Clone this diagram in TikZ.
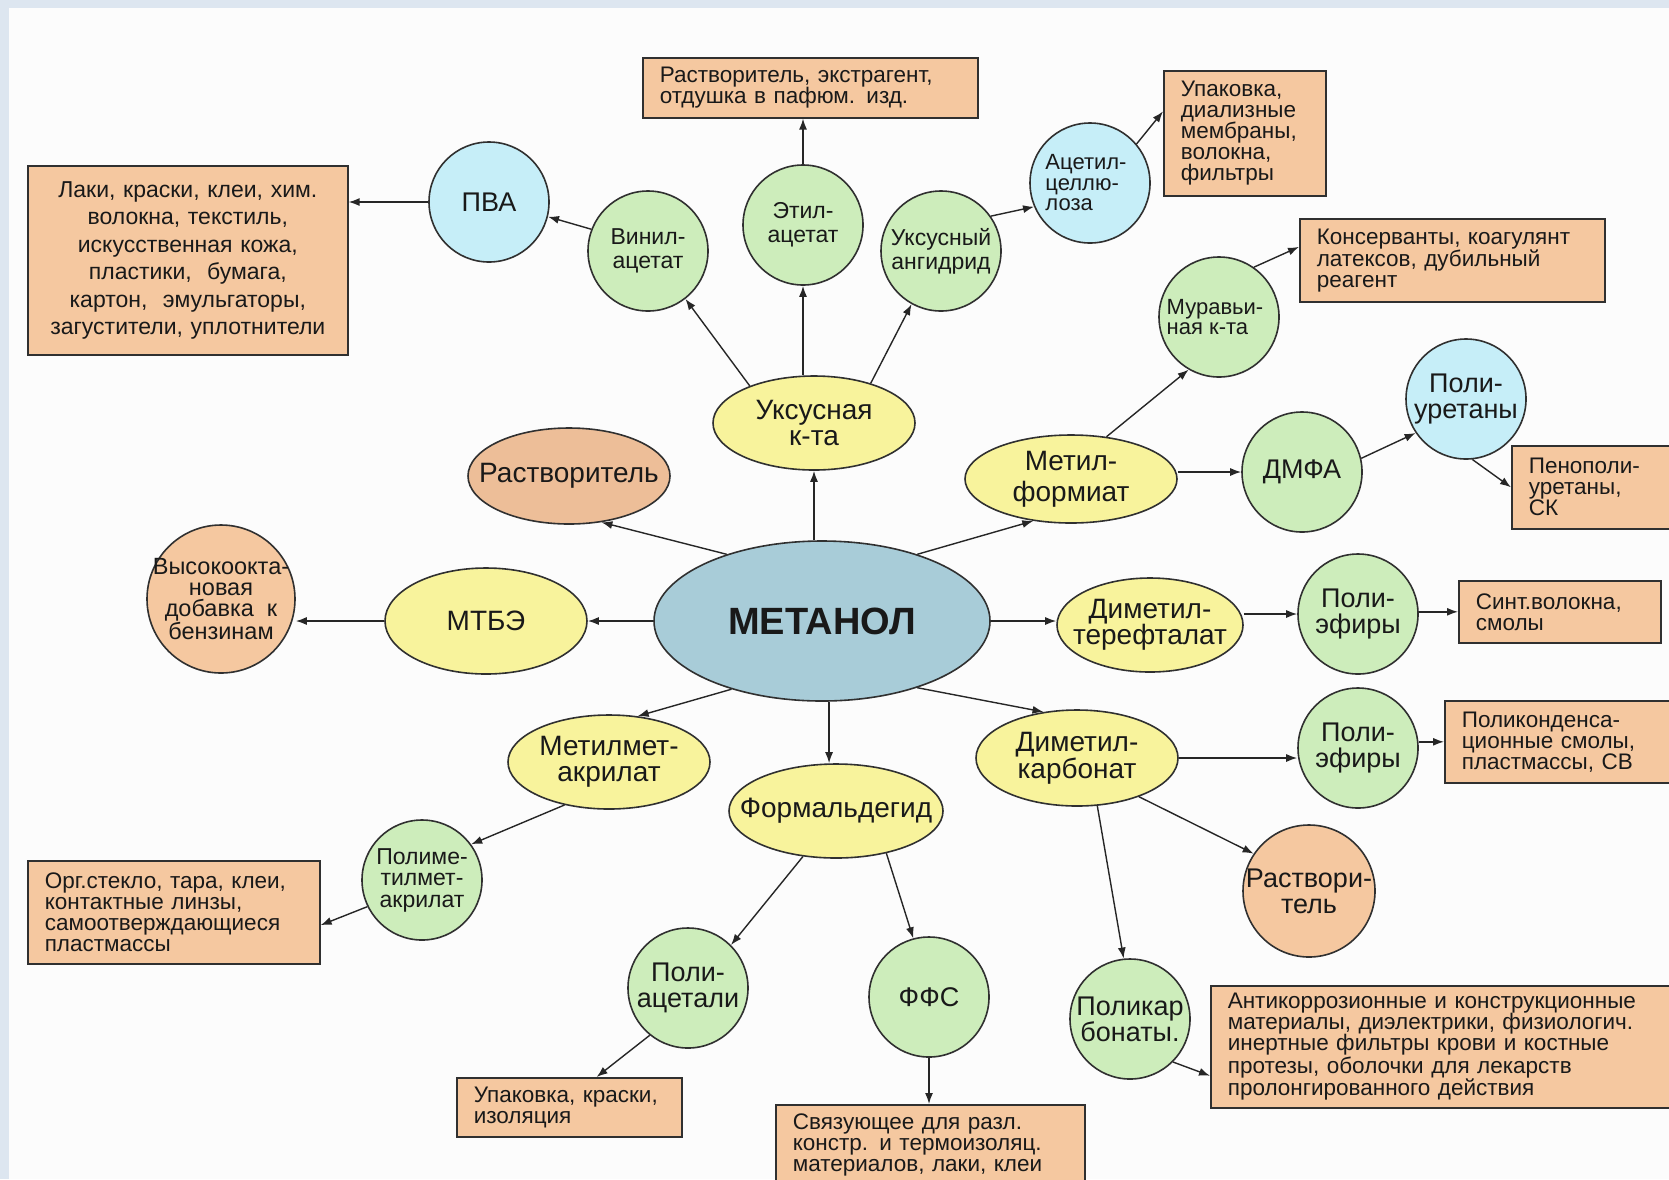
\documentclass[tikz,border=0pt]{standalone}
\usepackage{fontspec}
\setmainfont{Liberation Sans}
\usetikzlibrary{shapes.geometric, arrows.meta, positioning}
\definecolor{ballgreen}{HTML}{CDEDBB}
\definecolor{ballblue}{HTML}{C6EEF8}
\definecolor{ovalyellow}{HTML}{F8F39C}
\definecolor{peach}{HTML}{F5C8A0}
\definecolor{darkpeach}{HTML}{EDBE98}
\definecolor{metanolblue}{HTML}{A8CCD8}
\definecolor{edgegray}{HTML}{303030}
\definecolor{framebg}{HTML}{DDE6F0}
\definecolor{paper}{HTML}{FCFCFC}
\newcommand{\ovalfont}{\fontsize{28}{26}\selectfont}
\newcommand{\ballfont}{\fontsize{23}{24}\selectfont}
\newcommand{\bigballfont}{\fontsize{27}{26}\selectfont}
\newcommand{\smallballfont}{\fontsize{22}{20.5}\selectfont}
\newcommand{\boxfont}{\fontsize{22.5}{21}\selectfont}

\begin{document}
\begin{tikzpicture}[x=1pt, y=-1pt,
	every node/.style={text=black!90},
	ball/.style={circle, draw=edgegray, line width=1.6pt, minimum size=120pt, inner sep=0pt},
	greenball/.style={ball, fill=ballgreen},
	blueball/.style={ball, fill=ballblue},
	peachball/.style={ball, fill=peach},
	oval/.style={ellipse, draw=edgegray, line width=1.6pt, inner sep=0pt},
	yellowoval/.style={oval, fill=ovalyellow},
	usebox/.style={rectangle, draw=edgegray, line width=1.6pt, fill=peach, anchor=north west, align=left, inner xsep=17pt, inner ysep=4pt, font=\boxfont},
	lbl/.style={label={[align=center, font=\ballfont]center:#1}},
	biglbl/.style={label={[align=center, font=\bigballfont]center:#1}},
	smalllbl/.style={label={[align=center, font=\smallballfont]center:#1}},
	leftlbl/.style={label={[align=left, font=\smallballfont, xshift=-4pt]center:#1}},
	ovallbl/.style={label={[align=center, font=\ovalfont]center:#1}},
	arr/.style={-{Latex[length=11pt, width=8pt]}, line width=1.4pt, draw=black!85}]

	\useasboundingbox (0,0) rectangle (1669,1179);
	\fill[framebg] (0,0) rectangle (1669,1179);
	\fill[paper] (8.5,7.5) rectangle (1669,1179);

	\node[oval, fill=metanolblue, minimum width=336pt, minimum height=160pt,
		label={[font=\fontsize{38}{38}\selectfont\bfseries]center:МЕТАНОЛ}] (metanol) at (822,621) {};

	\node[yellowoval, minimum width=202pt, minimum height=94pt, ovallbl={Уксусная\\к-та}] (acetic) at (814,423) {};
	\node[oval, fill=darkpeach, minimum width=202pt, minimum height=96pt, ovallbl={Растворитель}] (solvent) at (569,476) {};
	\node[yellowoval, minimum width=212pt, minimum height=88pt,
		label={[align=center, font=\fontsize{28}{31}\selectfont]center:Метил-\\формиат}] (mf) at (1071,479) {};
	\node[yellowoval, minimum width=202pt, minimum height=106pt, ovallbl={МТБЭ}] (mtbe) at (486,621) {};
	\node[yellowoval, minimum width=186pt, minimum height=94pt, ovallbl={Диметил-\\терефталат}] (dmt) at (1150,625) {};
	\node[yellowoval, minimum width=202pt, minimum height=94pt, ovallbl={Метилмет-\\акрилат}] (mma) at (609,762) {};
	\node[yellowoval, minimum width=214pt, minimum height=94pt, ovallbl={Формальдегид}] (formald) at (836,811) {};
	\node[yellowoval, minimum width=202pt, minimum height=96pt, ovallbl={Диметил-\\карбонат}] (dmc) at (1077,758) {};

	\node[blueball, biglbl={ПВА}] (pva) at (489,202) {};
	\node[greenball, lbl={Винил-\\ацетат}] (vinyl) at (648,251) {};
	\node[greenball, lbl={Этил-\\ацетат}] (ethyl) at (803,225) {};
	\node[greenball, lbl={Уксусный\\ангидрид}] (anhyd) at (941,251) {};
	\node[blueball, leftlbl={Ацетил-\\целлю-\\лоза}] (acetyl) at (1090,183) {};
	\node[greenball, leftlbl={Муравьи-\\ная к-та}] (formic) at (1219,317) {};
	\node[blueball, biglbl={Поли-\\уретаны}] (pu) at (1466,399) {};
	\node[greenball, biglbl={ДМФА}] (dmfa) at (1302,472) {};
	\node[peachball, minimum size=148pt, label={[align=center, font=\fontsize{23.5}{21}\selectfont]center:Высокоокта-\\новая\\добавка\ \ к\\бензинам}] (octane) at (221,599) {};
	\node[greenball, biglbl={Поли-\\эфиры}] (poly1) at (1358,614) {};
	\node[greenball, biglbl={Поли-\\эфиры}] (poly2) at (1358,748) {};
	\node[greenball, label={[align=center, font=\fontsize{23}{21.5}\selectfont]center:Полиме-\\тилмет-\\акрилат}] (pmma) at (422,880) {};
	\node[greenball, biglbl={Поли-\\ацетали}] (pacet) at (688,988) {};
	\node[greenball, biglbl={ФФС}] (pfr) at (929,997) {};
	\node[peachball, minimum size=132pt, biglbl={Раствори-\\тель}] (solvc) at (1309,891) {};
	\node[greenball, biglbl={Поликар\\бонаты.}] (pcarb) at (1130,1019) {};

	\node[usebox, align=center, text width=286pt, minimum height=189pt, font=\fontsize{23}{27.5}\selectfont] (lacquer) at (27,165)
		{Лаки, краски, клеи, хим.\\волокна, текстиль,\\искусственная кожа,\\пластики,\ \ бумага,\\картон,\ \ эмульгаторы,\\загустители, уплотнители};
	\node[usebox, text width=301pt, minimum height=60pt] (topbox) at (642,57)
		{Растворитель, экстрагент,\\отдушка в пафюм. изд.};
	\node[usebox, text width=128pt, minimum height=125pt] (pack) at (1163,70)
		{Упаковка,\\диализные\\мембраны,\\волокна,\\фильтры};
	\node[usebox, text width=271pt, minimum height=83pt] (cons) at (1299,218)
		{Консерванты, коагулянт\\латексов, дубильный\\реагент};
	\node[usebox, text width=136pt, minimum height=83pt] (foam) at (1511,445)
		{Пенополи-\\уретаны,\\СК};
	\node[usebox, text width=168pt, minimum height=62pt] (synth) at (1458,580)
		{Синт.волокна,\\смолы};
	\node[usebox, text width=206pt, minimum height=82pt] (polycond) at (1444,700)
		{Поликонденса-\\ционные смолы,\\пластмассы, СВ};
	\node[usebox, text width=258pt, minimum height=103pt] (org) at (27,860)
		{Орг.стекло, тара, клеи,\\контактные линзы,\\самоотверждающиеся\\пластмассы};
	\node[usebox, text width=191pt, minimum height=59pt] (pack2) at (456,1077)
		{Упаковка, краски,\\изоляция};
	\node[usebox, text width=275pt, minimum height=80pt] (binder) at (775,1104)
		{Связующее для разл.\\констр. и термоизоляц.\\материалов, лаки, клеи};
	\node[usebox, text width=436pt, minimum height=122pt] (anti) at (1210,985)
		{Антикоррозионные и конструкционные\\материалы, диэлектрики, физиологич.\\инертные фильтры крови и костные\\протезы, оболочки для лекарств\\пролонгированного действия};

	\draw[arr] (metanol.north -| acetic) -- (acetic.south);
	\draw[arr] (metanol.145) -- (solvent.-55);
	\draw[arr] (metanol.35) -- (mf.-132);
	\draw[arr] (metanol.west) -- (mtbe.east);
	\draw[arr] (metanol.east) -- (metanol.east -| dmt.west);
	\draw[arr] (metanol.217) -- (mma.58);
	\draw[arr] (metanol.-85) -- (metanol.-85 |- formald.north);
	\draw[arr] (metanol.-35) -- (dmc.126);

	\draw[arr] (acetic.150) -- (vinyl.-52);
	\draw[arr] (acetic.north -| ethyl) -- (ethyl.south);
	\draw[arr] (acetic.35) -- (anhyd.-119);
	\draw[arr] (vinyl.159) -- (pva.-14);
	\draw[arr] (pva.west) -- (pva.west -| lacquer.east);
	\draw[arr] (ethyl.north) -- (ethyl.north |- topbox.south);
	\draw[arr] (anhyd.35) -- (acetyl.203);
	\draw[arr] (acetyl.40) -- (pack.165);

	\draw[arr] (mf.50) -- (formic.-120);
	\draw[arr] (formic.55) -- (cons.175);
	\draw[arr] (mf.east |- dmfa) -- (dmfa.west);
	\draw[arr] (dmfa.13) -- (pu.-146);
	\draw[arr] (pu.-84) -- (foam.west);

	\draw[arr] (mtbe.west) -- (mtbe.west -| octane.east);
	\draw[arr] (dmt.east |- poly1) -- (poly1.west);
	\draw[arr] (poly1.east |- synth) -- (synth.west);

	\draw[arr] (mma.-136) -- (pmma.36);
	\draw[arr] (pmma.-154) -- (org.-5);
	\draw[arr] (formald.-126) -- (pacet.45);
	\draw[arr] (formald.-40) -- (pfr.105);
	\draw[arr] (pacet.-129) -- (pack2.48);
	\draw[arr] (pfr.south) -- (pfr.south |- binder.north);

	\draw[arr] (dmc.east) -- (dmc.east -| poly2.west);
	\draw[arr] (poly2.east |- polycond) -- (polycond.west);
	\draw[arr] (dmc.-32) -- (solvc.146);
	\draw[arr] (dmc.-67) -- (pcarb.96);
	\draw[arr] (pcarb.-45) -- (anti.187);
\end{tikzpicture}
\end{document}
